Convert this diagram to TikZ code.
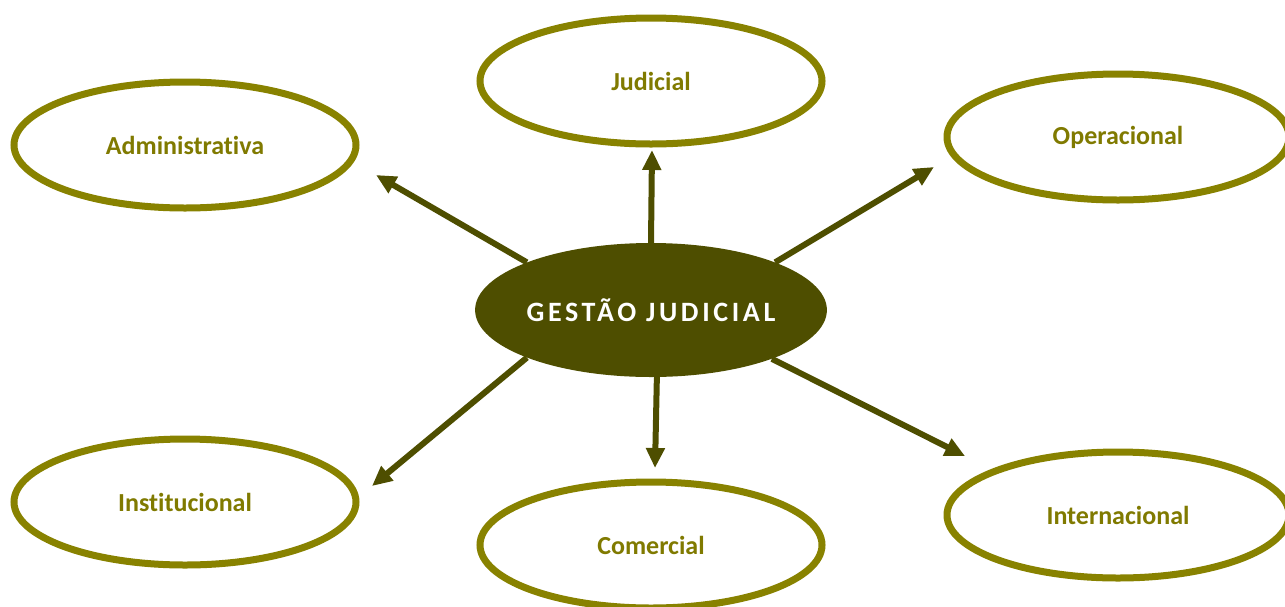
\documentclass[tikz,border=0pt]{standalone}
\usepackage{fontspec}
\setmainfont{Carlito}[Ligatures=NoCommon]
\usetikzlibrary{shapes.geometric,arrows.meta}
\definecolor{olive}{RGB}{136,130,0}
\definecolor{olivetext}{RGB}{128,122,0}
\definecolor{darkolive}{RGB}{78,78,0}
\tikzset{
  outer/.style={ellipse, draw=olive, line width=7pt, fill=white,
    minimum width=342pt, minimum height=126pt, inner sep=0pt,
    text=olivetext, font=\fontsize{26pt}{30pt}\selectfont\bfseries},
  hub/.style={ellipse, fill=darkolive, draw=none,
    minimum width=350pt, minimum height=134pt, inner sep=0pt,
    text=white, font=\fontsize{28pt}{32pt}\selectfont\bfseries\addfontfeatures{LetterSpace=13}},
  link/.style={draw=darkolive, line width=6pt, -{Triangle[length=20pt,width=18pt]}}
}
\begin{document}
\begin{tikzpicture}[x=1pt,y=-1pt]
\useasboundingbox (0,0) rectangle (1285,606);
\clip (0,0) rectangle (1285,606);
\node[outer] (adm) at (185,145) {Administrativa};
\node[outer] (jud) at (651,81) {Judicial};
\node[outer] (ope) at (1118,137) {Operacional};
\node[outer] (ins) at (185,502) {Institucional};
\node[outer] (com) at (651,545) {Comercial};
\node[outer] (int) at (1118,515) {Internacional};
\node[hub] (c) at (651,310) {GESTÃO JUDICIAL};
\coordinate (tadm) at (376,175);
\coordinate (tjud) at (652,150);
\coordinate (tope) at (934,167);
\coordinate (tins) at (372,486);
\coordinate (tcom) at (655,468);
\coordinate (tint) at (965,456);
\draw[link] (c.159.6) -- (tadm);
\draw[link] (c.90) -- (tjud);
\draw[link] (c.21.6) -- (tope);
\draw[link] (c.201.2) -- (tins);
\draw[link] (c.275) -- (tcom);
\draw[link] (c.338) -- (tint);
\end{tikzpicture}
\end{document}
